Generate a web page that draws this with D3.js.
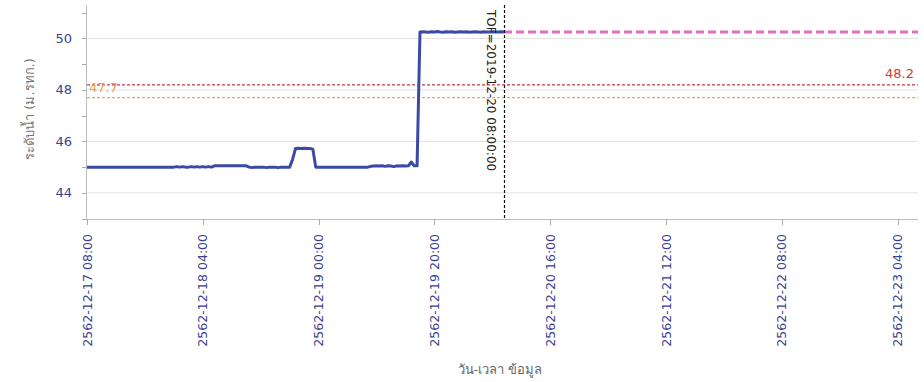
<!DOCTYPE html>
<html><head><meta charset="utf-8">
<script src="https://cdn.jsdelivr.net/npm/d3@7"></script>
<style>
body{margin:0;background:#fff;}
svg{display:block;font-family:"DejaVu Sans","Noto Sans",sans-serif;}
</style></head>
<body><svg id="c" width="924" height="382"></svg>
<script>
// ---- data ----
const startTime = "2019-12-17T08:00:00";
const stepMinutes = 30;
// water level (m. MSL) every 30 minutes, from 2019-12-17 08:00 to 2019-12-20 08:00
const levels = [
 45.00,45.00,45.00,45.00,45.00,45.00,45.00,45.00,45.00,45.00,
 45.00,45.00,45.00,45.00,45.00,45.00,45.00,45.00,45.00,45.00,
 45.00,45.00,45.00,45.00,45.00,45.00,45.00,45.00,45.00,45.00,
 45.00,45.02,45.00,45.02,45.00,45.00,45.02,45.00,45.02,45.00,
 45.02,45.00,45.02,45.00,45.05,45.05,45.05,45.05,45.05,45.05,
 45.05,45.05,45.05,45.05,45.05,45.05,45.00,44.98,45.00,45.00,
 45.00,45.00,44.98,45.00,45.00,45.00,44.98,45.00,45.00,45.00,
 45.00,45.30,45.72,45.73,45.72,45.73,45.72,45.72,45.70,45.00,
 45.00,45.00,45.00,45.00,45.00,45.00,45.00,45.00,45.00,45.00,
 45.00,45.00,45.00,45.00,45.00,45.00,45.00,45.00,45.03,45.04,
 45.05,45.04,45.05,45.03,45.05,45.04,45.02,45.05,45.04,45.05,
 45.04,45.05,45.20,45.05,45.05,50.25,50.26,50.25,50.24,50.26,
 50.25,50.27,50.25,50.24,50.26,50.25,50.26,50.24,50.25,50.26,
 50.25,50.26,50.24,50.25,50.26,50.25,50.24,50.26,50.25,50.25,
 50.26,50.25,50.25,50.26,50.25
];
const tofTime = "2019-12-20T08:00:00";
const tofLabel = "TOF=2019-12-20 08:00:00";
const forecastLevel = 50.25;
const thresholds = [48.2, 47.7];
const thresholdLabels = ["48.2", "47.7"];
const yMajorTicks = [44, 46, 48, 50];
const yMinorTicks = [43, 45, 47, 49, 51];
const xTickTimes = ["2019-12-17T08:00:00","2019-12-18T04:00:00","2019-12-19T00:00:00",
  "2019-12-19T20:00:00","2019-12-20T16:00:00","2019-12-21T12:00:00",
  "2019-12-22T08:00:00","2019-12-23T04:00:00"];
const xDomain = ["2019-12-17T08:00:00","2019-12-23T07:30:00"];
const yLabel = "ระดับน้ำ (ม.รทก.)";
const xLabel = "วัน-เวลา ข้อมูล";

// ---- chart ----
const svg = d3.select("#c");
const t0 = new Date(startTime);
const series = levels.map((v,i)=>({t:new Date(t0.getTime()+i*stepMinutes*60000), v}));
const x = d3.scaleTime().domain(xDomain.map(d=>new Date(d))).range([87, 918]);
const y = d3.scaleLinear().domain([43, 51.3]).range([218.6, 5]);
const pL = 86, pR = 918, pT = 5, pB = 219;

// gridlines
svg.append("g").selectAll("line").data(yMajorTicks).join("line")
  .attr("x1", pL).attr("x2", pR)
  .attr("y1", d=>y(d)).attr("y2", d=>y(d))
  .attr("stroke", "#e2e2e2").attr("stroke-width", 1);

// axes lines
svg.append("line").attr("x1", pL+0.5).attr("x2", pL+0.5).attr("y1", pT).attr("y2", pB)
  .attr("stroke", "#bdbdbd");
svg.append("line").attr("x1", pL).attr("x2", pR).attr("y1", pB+0.5).attr("y2", pB+0.5)
  .attr("stroke", "#bdbdbd");

// y ticks
svg.append("g").selectAll("line").data(yMajorTicks.concat(yMinorTicks)).join("line")
  .attr("x1", pL-4).attr("x2", pL).attr("y1", d=>Math.round(y(d))+0.5).attr("y2", d=>Math.round(y(d))+0.5)
  .attr("stroke", "#aaa");
svg.append("g").selectAll("text").data(yMajorTicks).join("text")
  .attr("x", 72).attr("y", d=>y(d)+4.5).attr("text-anchor", "end")
  .attr("font-size", 13).attr("fill", "#3c3f8f").text(d=>d);

// x ticks
const fmt = d => `${d.getFullYear()+543}-${d3.timeFormat("%m-%d %H:%M")(d)}`;
const xt = xTickTimes.map(d=>new Date(d));
svg.append("g").selectAll("line").data(xt).join("line")
  .attr("x1", d=>Math.round(x(d))+0.5).attr("x2", d=>Math.round(x(d))+0.5)
  .attr("y1", pB).attr("y2", pB+6).attr("stroke", "#aaa");
svg.append("g").selectAll("text").data(xt).join("text")
  .attr("transform", d=>`translate(${x(d)+4.5},234) rotate(-90)`)
  .attr("text-anchor", "end").attr("font-size", 12.5).attr("fill", "#3c3f8f")
  .text(fmt);

// threshold lines
const thColors = ["#cc3340", "#eca84a"];
thresholds.forEach((v,i)=>{
  svg.append("line").attr("x1", pL+1).attr("x2", pR).attr("y1", y(v)).attr("y2", y(v))
    .attr("stroke", thColors[i]).attr("stroke-width", 1.3).attr("stroke-dasharray", "3,2");
});
svg.append("text").attr("x", 914).attr("y", y(thresholds[0])-6.5).attr("text-anchor", "end")
  .attr("font-size", 13).attr("fill", "#d03a3a").text(thresholdLabels[0]);
svg.append("text").attr("x", 89).attr("y", y(thresholds[1])-6).attr("text-anchor", "start")
  .attr("font-size", 13).attr("fill", "#eda23a").text(thresholdLabels[1]);

// forecast pink line
const tof = new Date(tofTime);
svg.append("line").attr("x1", x(tof)).attr("x2", pR).attr("y1", y(forecastLevel)).attr("y2", y(forecastLevel))
  .attr("stroke", "#e46cbd").attr("stroke-width", 3).attr("stroke-dasharray", "8,4");

// data line
svg.append("path").datum(series)
  .attr("d", d3.line().x(d=>x(d.t)).y(d=>y(d.v)))
  .attr("fill", "none").attr("stroke", "#3a4aa6").attr("stroke-width", 3)
  .attr("stroke-linejoin", "round");

// TOF line
svg.append("line").attr("x1", Math.round(x(tof))+0.5).attr("x2", Math.round(x(tof))+0.5)
  .attr("y1", pT).attr("y2", pB).attr("stroke", "#111").attr("stroke-width", 1.2)
  .attr("stroke-dasharray", "3,2");
svg.append("text").attr("transform", `translate(${x(tof)-17},10) rotate(90)`)
  .attr("font-size", 12).attr("fill", "#222").text(tofLabel);

// axis titles
svg.append("text").attr("transform", "translate(34,109) rotate(-90)")
  .attr("text-anchor", "middle").attr("font-size", 13).attr("fill", "#777").text(yLabel);
svg.append("text").attr("x", 500).attr("y", 374).attr("text-anchor", "middle")
  .attr("font-size", 13).attr("fill", "#666").text(xLabel);
</script></body></html>
